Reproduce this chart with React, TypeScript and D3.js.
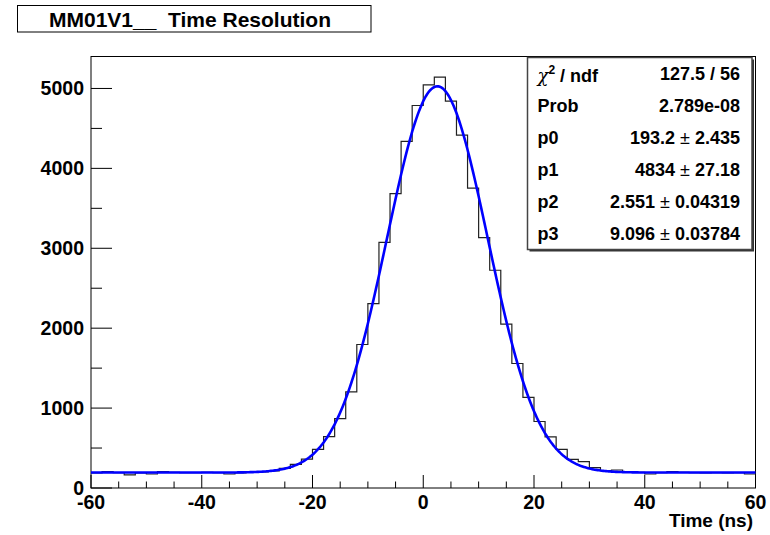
import React from "react";
import * as d3 from "d3";

// Histogram: 60 bins of width 2 ns from -60 to 60
const binEdgesStart = -60;
const binWidth = 2;
const counts = [
  190, 205, 192, 165, 190, 175, 204, 195, 192, 193,
  195, 192, 175, 190, 195, 200, 215, 246, 296, 362,
  484, 642, 867, 1204, 1796, 2308, 3075, 3683, 4337, 4787,
  5046, 5141, 4842, 4417, 3754, 3133, 2725, 2050, 1558, 1134,
  832, 640, 484, 358, 329, 254, 217, 225, 200, 195,
  175, 192, 204, 195, 192, 190, 193, 188, 192, 175,
];

// Fit parameters (constant + gaussian)
const fitParams = [193.2, 4834, 2.551, 9.096];
const fitErrors = [2.435, 27.18, 0.04319, 0.03784];
const statLabels = ["Prob", "p0", "p1", "p2", "p3"];
const statValues = ["2.789e-08", "193.2", "4834", "2.551", "9.096"];
const chiNdf = "127.5 / 56";

const xTicks = [-60, -40, -20, 0, 20, 40, 60];
const yTicks = [0, 1000, 2000, 3000, 4000, 5000];

const W = 770;
const H = 535;
const FL = 91;
const FR = 755.5;
const FT = 56.5;
const FB = 488;

const FONT = "'Liberation Sans', Arial, Helvetica, sans-serif";

export default function App() {
  const x = d3.scaleLinear().domain([-60, 60]).range([FL, FR]);
  const y = d3.scaleLinear().domain([0, 5400]).range([FB, FT]);

  // step path
  let hp = "";
  counts.forEach((c, i) => {
    const x0 = x(binEdgesStart + i * binWidth);
    const x1 = x(binEdgesStart + (i + 1) * binWidth);
    hp += (i === 0 ? `M${x0},${y(c)}` : `L${x0},${y(c)}`) + `L${x1},${y(c)}`;
  });

  const [p0, p1, p2, p3] = fitParams;
  const fit = (t: number) => p0 + p1 * Math.exp(-0.5 * ((t - p2) / p3) ** 2);
  const xs = d3.range(-60, 60.001, 0.25);
  const fitPath = d3
    .line<number>()
    .x((t) => x(t))
    .y((t) => y(fit(t)))
    .curve(d3.curveLinear)(xs) as string;

  const xMinor = d3.range(-60, 60.001, 5).filter((v) => v % 20 !== 0);
  const yMinor = d3.range(500, 5400, 1000);

  const sbL = 527.5;
  const sbR = 752;
  const sbT = 57.5;
  const sbB = 249.5;
  const rowH = (sbB - sbT) / 6;
  const base = (i: number) => sbT + rowH * (i + 0.5) + 6.5;

  return (
    <svg
      width={W}
      height={H}
      style={{ position: "absolute", left: 0, top: 0, background: "#fff" }}
      fontFamily={FONT}
    >
      <rect x={0} y={0} width={W} height={H} fill="#fff" />
      {/* title box */}
      <rect x={17.5} y={5.5} width={353.5} height={26.5} fill="#fff" stroke="#000" strokeWidth={1} />
      <text x={190} y={26.5} textAnchor="middle" fontSize={21} fontWeight="bold" xmlSpace="preserve">
        MM01V1__  Time Resolution
      </text>

      {/* frame */}
      <rect x={FL} y={FT} width={FR - FL} height={FB - FT} fill="none" stroke="#000" strokeWidth={1} />

      {/* histogram */}
      <path d={hp} fill="none" stroke="#222" strokeWidth={1.2} />
      {/* fit */}
      <path d={fitPath} fill="none" stroke="#0000ff" strokeWidth={2.6} />

      {/* x axis ticks */}
      {xTicks.map((v) => (
        <g key={"xt" + v}>
          <line x1={x(v)} x2={x(v)} y1={FB} y2={FB - 13} stroke="#000" />
          <text x={x(v)} y={FB + 20.5} textAnchor="middle" fontSize={19.5} fontWeight="bold">
            {v}
          </text>
        </g>
      ))}
      {xMinor.map((v) => (
        <line key={"xm" + v} x1={x(v)} x2={x(v)} y1={FB} y2={FB - 6.5} stroke="#000" />
      ))}
      <text x={753} y={527} textAnchor="end" fontSize={19} fontWeight="bold">
        Time (ns)
      </text>

      {/* y axis ticks */}
      {yTicks.map((v) => (
        <g key={"yt" + v}>
          <line x1={FL} x2={FL + 21} y1={y(v)} y2={y(v)} stroke="#000" />
          <text x={FL - 7} y={y(v) + 7} textAnchor="end" fontSize={19.5} fontWeight="bold">
            {v}
          </text>
        </g>
      ))}
      {yMinor.map((v) => (
        <line key={"ym" + v} x1={FL} x2={FL + 11} y1={y(v)} y2={y(v)} stroke="#000" />
      ))}

      {/* stats box */}
      <rect x={sbL + 2} y={sbT + 2} width={sbR - sbL} height={sbB - sbT} fill="#333" />
      <rect x={sbL} y={sbT} width={sbR - sbL} height={sbB - sbT} fill="#fff" stroke="#444" strokeWidth={1.5} />
      <g fontSize={18} fontWeight="bold">
        <text x={sbL + 10} y={base(0) + 2}>
          <tspan fontFamily="'DejaVu Serif', serif" fontStyle="italic" fontWeight="normal">χ</tspan>
          <tspan dy={-8} fontSize={12}>2</tspan>
          <tspan dy={8}> / ndf</tspan>
        </text>
        <text x={sbR - 12} y={base(0)} textAnchor="end">
          {chiNdf}
        </text>
        {statLabels.map((lab, i) => (
          <g key={lab}>
            <text x={sbL + 10} y={base(i + 1)}>
              {lab}
            </text>
            <text x={sbR - 12} y={base(i + 1)} textAnchor="end">
              {i === 0 ? (
                statValues[i]
              ) : (
                <>
                  {statValues[i]}
                  <tspan fontWeight="normal"> ± </tspan>
                  {String(fitErrors[i - 1])}
                </>
              )}
            </text>
          </g>
        ))}
      </g>
    </svg>
  );
}
